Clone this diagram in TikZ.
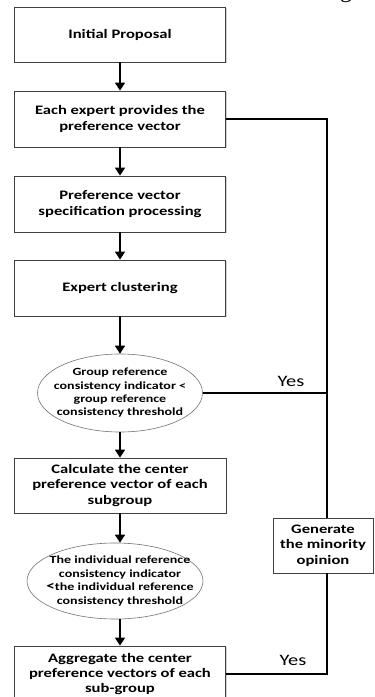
\documentclass[tikz,border=0pt]{standalone}
\usepackage{fontspec}
\setmainfont{Carlito}[FakeStretch=1.28]
\newfontfamily\headserif{Liberation Serif}
\usetikzlibrary{arrows.meta,shapes.geometric,shadows}

\begin{document}
\begin{tikzpicture}[x=1bp,y=-1bp,
  stepbox/.style={draw=black!75, line width=0.8bp, fill=white,
    minimum width=211bp, minimum height=55bp, inner sep=0pt, align=center,
    font=\bfseries\fontsize{13}{15.5}\selectfont,
    drop shadow={shadow xshift=1.3bp, shadow yshift=-1.3bp, fill=black!35, opacity=0.5}},
  decision/.style={ellipse, draw=black!55, line width=0.6bp, fill=white, inner sep=0pt},
  decisiontext/.style={align=center, inner sep=0pt, font=\bfseries\fontsize{11}{13.4}\selectfont},
  flow/.style={line width=1.7bp, -{Triangle[width=10bp,length=8bp]}},
  rail/.style={line width=1.1bp},
  yeslabel/.style={font=\fontsize{16}{18}\selectfont, inner sep=0pt}]

\useasboundingbox (0,0) rectangle (374,697);

% main column of steps
\node[stepbox] (b1) at (120,34.5) {Initial Proposal};
\node[stepbox, minimum height=56bp] (b2) at (120,119) {Each expert provides the\\preference vector};
\node[stepbox, minimum height=56bp] (b3) at (120,204) {Preference vector\\specification processing};
\node[stepbox, minimum height=56bp] (b4) at (120,288) {Expert clustering};

\node[decision, minimum width=165bp, minimum height=78bp] (e1) at (120,393) {};
\node[decisiontext] (e1t) at (e1.center) {Group reference\\consistency indicator <\\group reference\\consistency threshold};

\node[stepbox, minimum width=212bp] (b5) at (120,485.5) {Calculate the center\\preference vector of each\\subgroup};

\node[decision, minimum width=176bp, minimum height=76bp] (e2) at (115,581) {};
\node[decisiontext] (e2t) at (120,581) {The individual reference\\consistency indicator\\{\fontsize{13.5}{13}\selectfont<}the individual reference\\consistency threshold};

\node[stepbox, minimum height=56bp] (b6) at (120,674) {Aggregate the center\\preference vectors of each\\sub-group};

% side step
\node[stepbox, minimum width=100bp] (gen) at (323,545.5) {Generate\\the minority\\opinion};

% downward flow
\draw[flow] (b1) -- (b2);
\draw[flow] (b2) -- (b3);
\draw[flow] (b3) -- (b4);
\draw[flow] (b4.south) -- (b4.south |- e1.north);
\draw[flow] (e1.south) -- (e1.south |- b5.north);
\draw[flow] (b5.south) -- (b5.south |- e2.north);
\draw[flow] (b5.south |- e2.south) -- (b6.north);

% right-hand rail to the minority opinion
\coordinate (railx) at (327,0);
\draw[rail] (b2.east) -- (b2.east -| railx) -- (railx |- gen.north);
\draw[rail] (e1.east) -- (e1.east -| railx);
\draw[rail] (railx |- gen.south) -- (railx |- b6.east) -- (b6.east);

\node[yeslabel] (yes1) at (291,381) {Yes};
\node[yeslabel] (yes2) at (293,660) {Yes};

% descender of a heading letter at the upper edge
\node[anchor=base, inner sep=0pt, font=\headserif\fontsize{24}{24}\selectfont] (gfrag) at (346,-2) {g};
\end{tikzpicture}
\end{document}
